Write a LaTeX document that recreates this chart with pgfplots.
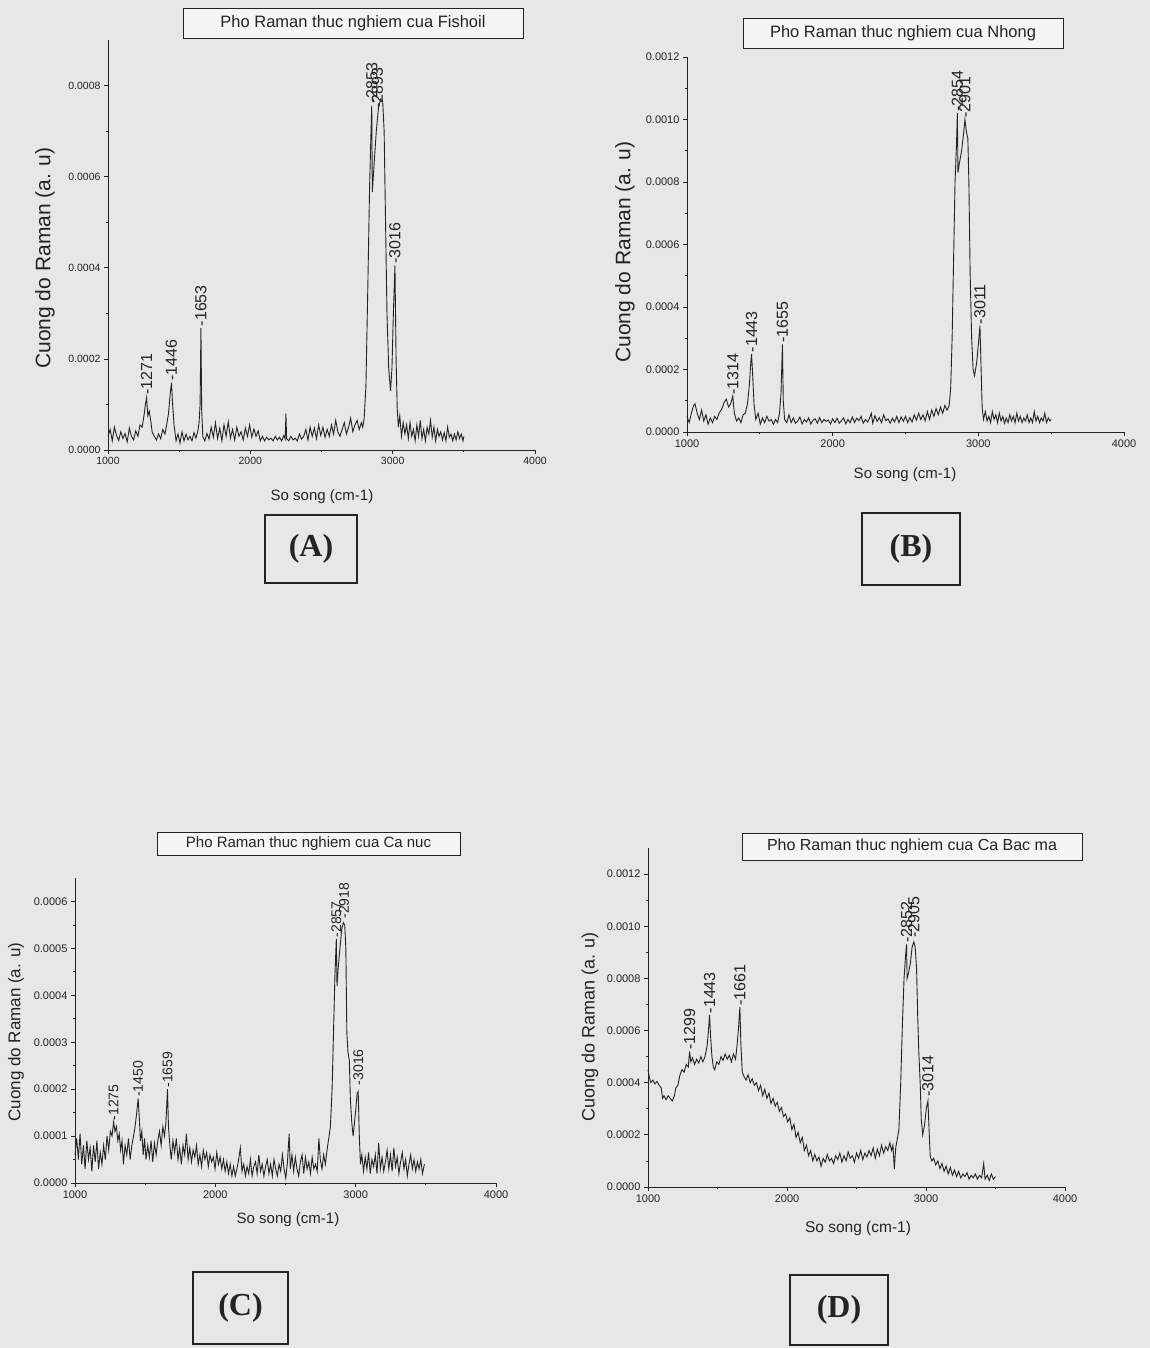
\documentclass[border=0pt]{standalone}
\usepackage{pgfplots}
\pgfplotsset{compat=1.18}
\usepackage{fontspec}
\setmainfont{Liberation Sans}
\newfontfamily\boxfont{Liberation Serif}
\definecolor{paper}{RGB}{231,231,231}
\definecolor{ink}{RGB}{35,35,35}

\pgfplotsset{
  raman/.style={
    scale only axis,
    anchor=south west,
    axis x line*=bottom,
    axis y line*=left,
    xmin=1000, xmax=4000, ymin=0,
    xtick={1000,2000,3000,4000},
    minor x tick num=1,
    minor y tick num=1,
    tick align=outside,
    major tick length=4pt,
    minor tick length=2.5pt,
    tick style={ink, line width=0.7pt},
    axis line style={ink, line width=0.9pt},
    scaled y ticks=false,
    /pgf/number format/assume math mode=true,
    xticklabel style={/pgf/number format/1000 sep={}},
    yticklabel style={/pgf/number format/.cd, fixed, fixed zerofill, precision=4},
    ticklabel style={text=ink},
    clip=false,
  },
  spec/.style={ink, line width=0.9pt, mark=none, sharp plot},
  peaks/.style={draw=none, mark=none, nodes near coords, point meta=explicit symbolic,
    nodes near coords style={rotate=90, anchor=west, inner sep=1.5pt, text=ink, font=#1}},
}

\begin{document}
\begin{tikzpicture}[x=1pt,y=1pt]
\fill[paper] (0,0) rectangle (1150,1348);

% ================= (A) Fishoil =================
\begin{axis}[raman, at={(108pt,898pt)}, width=427pt, height=410pt, ymax=0.0009,
  ytick={0,0.0002,0.0004,0.0006,0.0008},
  ticklabel style={font=\fontsize{10.5}{12}\selectfont}]
\addplot[spec] table[x=x,y=y] {
x y
1000 3.0e-5
1015 4.5e-5
1030 2.0e-5
1045 5.0e-5
1060 3.2e-5
1075 2.1e-5
1090 4.0e-5
1105 2.5e-5
1120 3.6e-5
1135 1.8e-5
1150 4.8e-5
1165 3.0e-5
1180 2.2e-5
1195 4.2e-5
1210 3.0e-5
1225 5.5e-5
1240 5.0e-5
1255 8.0e-5
1263 10.0e-5
1271 11.5e-5
1280 7.5e-5
1290 8.5e-5
1300 6.5e-5
1310 4.0e-5
1325 3.0e-5
1340 2.2e-5
1355 3.5e-5
1370 2.5e-5
1385 4.5e-5
1400 3.5e-5
1412 5.5e-5
1425 8.0e-5
1436 12.0e-5
1446 14.8e-5
1454 10.0e-5
1464 5.5e-5
1478 2.0e-5
1492 3.5e-5
1506 1.5e-5
1520 4.0e-5
1534 2.0e-5
1548 3.5e-5
1562 2.2e-5
1576 3.0e-5
1590 2.0e-5
1604 3.8e-5
1618 2.6e-5
1630 4.0e-5
1640 6.0e-5
1647 10.0e-5
1653 26.8e-5
1658 9.0e-5
1666 3.0e-5
1680 2.0e-5
1695 3.6e-5
1710 2.4e-5
1725 5.0e-5
1740 2.8e-5
1755 6.0e-5
1770 2.5e-5
1785 4.8e-5
1800 2.0e-5
1815 5.5e-5
1830 3.0e-5
1845 6.2e-5
1860 2.6e-5
1875 4.5e-5
1890 2.2e-5
1905 5.0e-5
1920 3.0e-5
1935 4.0e-5
1950 2.2e-5
1965 4.8e-5
1980 3.0e-5
1995 5.5e-5
2010 2.8e-5
2025 4.6e-5
2040 3.0e-5
2055 4.2e-5
2070 2.0e-5
2085 3.0e-5
2100 2.0e-5
2115 2.8e-5
2130 2.2e-5
2145 2.6e-5
2160 2.0e-5
2175 3.0e-5
2190 2.2e-5
2205 2.8e-5
2220 2.0e-5
2235 3.2e-5
2245 2.4e-5
2250 8.0e-5
2255 2.5e-5
2270 2.0e-5
2285 3.0e-5
2300 2.2e-5
2315 2.6e-5
2330 2.0e-5
2345 3.5e-5
2360 2.4e-5
2375 3.0e-5
2390 4.5e-5
2405 2.2e-5
2420 5.0e-5
2435 3.0e-5
2450 4.8e-5
2465 2.5e-5
2480 5.5e-5
2495 3.2e-5
2510 5.0e-5
2525 2.8e-5
2540 4.5e-5
2555 3.0e-5
2570 5.5e-5
2585 3.5e-5
2600 6.5e-5
2615 4.0e-5
2630 3.0e-5
2645 4.5e-5
2660 6.0e-5
2675 3.5e-5
2690 5.0e-5
2705 7.0e-5
2720 4.0e-5
2735 5.5e-5
2750 6.5e-5
2765 4.5e-5
2780 6.0e-5
2790 5.0e-5
2800 7.0e-5
2812 14.0e-5
2825 35.0e-5
2838 58.0e-5
2848 70.0e-5
2853 75.6e-5
2857 56.6e-5
2870 63.0e-5
2885 70.0e-5
2900 75.0e-5
2915 77.0e-5
2930 76.5e-5
2940 70.0e-5
2950 50.0e-5
2960 30.0e-5
2972 18.0e-5
2985 13.0e-5
2995 18.0e-5
3005 30.0e-5
3016 40.5e-5
3024 20.0e-5
3032 9.0e-5
3040 5.0e-5
3050 7.5e-5
3062 3.0e-5
3074 6.0e-5
3086 3.5e-5
3098 5.5e-5
3110 2.5e-5
3122 6.0e-5
3134 3.0e-5
3146 4.5e-5
3158 2.0e-5
3170 5.5e-5
3182 3.0e-5
3194 6.5e-5
3206 2.5e-5
3218 4.5e-5
3230 2.0e-5
3242 5.0e-5
3254 3.5e-5
3266 6.5e-5
3278 2.8e-5
3290 5.0e-5
3302 2.0e-5
3314 4.5e-5
3326 3.0e-5
3338 4.0e-5
3350 2.2e-5
3362 3.8e-5
3374 2.0e-5
3386 5.0e-5
3398 2.8e-5
3410 3.5e-5
3422 2.0e-5
3434 3.5e-5
3446 2.2e-5
3458 4.0e-5
3470 2.5e-5
3482 3.5e-5
3494 2.0e-5
3500 3.0e-5
};
\addplot[peaks={\fontsize{16}{16}\selectfont}] table[x=x,y=y,meta=lab] {
x y lab
1271 11.8e-5 -1271
1446 14.8e-5 -1446
1653 26.8e-5 -1653
2853 75.6e-5 -2853
2893 74.5e-5 -2893
3016 40.5e-5 -3016
};
\end{axis}

% ================= (B) Nhong =================
\begin{axis}[raman, at={(687pt,916pt)}, width=437pt, height=375pt, ymax=0.0012,
  ytick={0,0.0002,0.0004,0.0006,0.0008,0.0010,0.0012},
  ticklabel style={font=\fontsize{11}{12}\selectfont}]
\addplot[spec] table[x=x,y=y] {
x y
1000 5.0e-5
1015 3.0e-5
1030 6.0e-5
1045 8.5e-5
1055 9.0e-5
1070 6.0e-5
1085 4.0e-5
1100 7.0e-5
1115 3.5e-5
1130 5.5e-5
1145 2.5e-5
1160 4.5e-5
1175 3.0e-5
1190 5.0e-5
1205 4.0e-5
1220 6.0e-5
1240 7.5e-5
1255 9.5e-5
1270 10.5e-5
1285 8.0e-5
1300 9.0e-5
1314 11.5e-5
1325 6.0e-5
1340 3.5e-5
1355 4.5e-5
1370 3.0e-5
1385 5.5e-5
1400 6.0e-5
1415 9.0e-5
1428 15.0e-5
1436 21.0e-5
1443 25.0e-5
1450 19.0e-5
1460 9.0e-5
1472 4.0e-5
1488 6.0e-5
1503 2.5e-5
1518 4.5e-5
1533 3.0e-5
1548 5.0e-5
1563 3.5e-5
1578 4.0e-5
1593 2.5e-5
1608 4.0e-5
1622 3.0e-5
1635 6.0e-5
1645 12.0e-5
1655 28.0e-5
1661 10.0e-5
1670 4.0e-5
1685 3.0e-5
1700 5.5e-5
1715 3.0e-5
1730 4.5e-5
1745 2.8e-5
1760 3.5e-5
1775 4.8e-5
1790 2.6e-5
1805 4.0e-5
1820 3.2e-5
1835 4.5e-5
1850 2.5e-5
1865 3.8e-5
1880 4.2e-5
1895 2.8e-5
1910 4.6e-5
1925 3.0e-5
1940 4.0e-5
1955 3.4e-5
1970 3.8e-5
1985 2.6e-5
2000 4.2e-5
2015 3.0e-5
2030 4.4e-5
2045 2.8e-5
2060 3.6e-5
2075 4.5e-5
2090 2.6e-5
2105 4.0e-5
2120 3.0e-5
2135 4.8e-5
2150 3.0e-5
2165 4.4e-5
2180 3.6e-5
2195 5.0e-5
2210 2.8e-5
2225 4.0e-5
2240 3.2e-5
2255 4.6e-5
2265 6.0e-5
2275 2.8e-5
2290 5.2e-5
2305 3.4e-5
2320 4.6e-5
2335 3.0e-5
2350 5.5e-5
2365 3.6e-5
2380 4.2e-5
2395 2.8e-5
2410 4.4e-5
2425 3.2e-5
2440 5.0e-5
2455 3.0e-5
2470 4.8e-5
2485 3.4e-5
2500 5.0e-5
2515 3.0e-5
2530 4.6e-5
2545 3.2e-5
2560 5.5e-5
2575 3.8e-5
2590 6.0e-5
2605 4.0e-5
2620 5.5e-5
2635 3.6e-5
2650 6.5e-5
2665 4.0e-5
2680 7.0e-5
2695 5.0e-5
2710 7.5e-5
2725 5.5e-5
2740 8.0e-5
2755 6.0e-5
2770 8.5e-5
2785 7.0e-5
2800 8.5e-5
2810 14.0e-5
2820 30.0e-5
2830 55.0e-5
2840 80.0e-5
2850 92.0e-5
2856 102.0e-5
2860 83.0e-5
2870 86.0e-5
2885 90.0e-5
2900 96.0e-5
2908 100.0e-5
2918 96.0e-5
2928 94.0e-5
2935 80.0e-5
2944 50.0e-5
2954 30.0e-5
2964 20.0e-5
2974 18.0e-5
2988 22.0e-5
3000 28.0e-5
3011 34.0e-5
3018 22.0e-5
3026 8.0e-5
3035 4.0e-5
3048 6.5e-5
3060 3.5e-5
3072 5.0e-5
3084 3.0e-5
3096 6.5e-5
3108 4.0e-5
3120 5.5e-5
3132 3.0e-5
3144 6.0e-5
3156 3.5e-5
3168 5.0e-5
3180 2.8e-5
3192 4.5e-5
3204 3.0e-5
3216 5.5e-5
3228 3.5e-5
3240 5.0e-5
3252 3.0e-5
3264 6.0e-5
3276 3.5e-5
3288 5.0e-5
3300 3.0e-5
3312 4.5e-5
3324 3.5e-5
3336 5.5e-5
3348 3.0e-5
3360 4.5e-5
3372 3.0e-5
3384 6.5e-5
3396 3.5e-5
3408 5.0e-5
3420 3.0e-5
3432 4.5e-5
3444 3.5e-5
3456 6.0e-5
3468 3.0e-5
3480 4.5e-5
3492 3.5e-5
3500 4.0e-5
};
\addplot[peaks={\fontsize{16}{16}\selectfont}] table[x=x,y=y,meta=lab] {
x y lab
1314 11.5e-5 -1314
1443 25.0e-5 -1443
1655 28.0e-5 -1655
2856 102.0e-5 -2854
2908 100.0e-5 -2901
3011 34.0e-5 -3011
};
\end{axis}

% ================= (C) Ca nuc =================
\begin{axis}[raman, at={(75pt,165pt)}, width=421pt, height=305pt, ymax=0.00065,
  ytick={0,0.0001,0.0002,0.0003,0.0004,0.0005,0.0006},
  ticklabel style={font=\fontsize{11}{12}\selectfont}]
\addplot[spec] table[x=x,y=y] {
x y
1000 6.0e-5
1012 9.5e-5
1024 5.0e-5
1036 10.5e-5
1048 4.0e-5
1060 8.0e-5
1072 3.0e-5
1084 9.0e-5
1096 5.0e-5
1108 7.5e-5
1120 2.5e-5
1132 8.0e-5
1144 4.5e-5
1156 9.0e-5
1168 3.0e-5
1180 6.5e-5
1192 4.0e-5
1204 8.0e-5
1216 5.0e-5
1228 10.0e-5
1240 7.0e-5
1252 11.0e-5
1264 10.0e-5
1275 13.0e-5
1285 11.0e-5
1295 12.0e-5
1305 9.0e-5
1315 10.5e-5
1325 7.0e-5
1335 9.0e-5
1345 4.0e-5
1357 8.0e-5
1369 6.0e-5
1381 9.5e-5
1393 5.0e-5
1405 8.0e-5
1417 10.0e-5
1428 12.0e-5
1440 15.0e-5
1450 18.0e-5
1458 14.0e-5
1466 9.0e-5
1476 11.0e-5
1486 6.0e-5
1496 9.5e-5
1506 5.0e-5
1518 8.0e-5
1530 5.5e-5
1542 9.0e-5
1554 4.5e-5
1566 8.5e-5
1578 6.0e-5
1590 9.0e-5
1602 11.0e-5
1614 8.0e-5
1626 12.0e-5
1638 10.0e-5
1648 13.0e-5
1659 20.0e-5
1666 12.0e-5
1676 8.0e-5
1686 5.0e-5
1698 9.0e-5
1710 6.5e-5
1722 9.5e-5
1734 5.0e-5
1746 7.5e-5
1758 4.0e-5
1770 8.0e-5
1782 6.0e-5
1794 10.5e-5
1806 5.0e-5
1818 7.5e-5
1830 4.5e-5
1842 7.0e-5
1854 5.5e-5
1866 8.0e-5
1878 4.0e-5
1890 6.0e-5
1902 3.5e-5
1914 7.0e-5
1926 5.0e-5
1938 6.5e-5
1950 3.5e-5
1962 6.0e-5
1974 4.5e-5
1986 5.5e-5
1998 3.0e-5
2010 6.5e-5
2022 4.0e-5
2034 5.5e-5
2046 3.0e-5
2058 5.0e-5
2070 2.5e-5
2082 4.5e-5
2094 2.0e-5
2106 4.0e-5
2118 1.5e-5
2130 3.5e-5
2142 1.5e-5
2154 3.0e-5
2166 5.0e-5
2178 7.5e-5
2190 2.5e-5
2202 4.0e-5
2214 1.5e-5
2226 3.5e-5
2238 2.0e-5
2250 5.0e-5
2262 1.5e-5
2274 3.5e-5
2286 4.5e-5
2298 2.0e-5
2310 6.0e-5
2322 2.5e-5
2334 4.0e-5
2346 1.5e-5
2358 3.5e-5
2370 5.0e-5
2382 2.0e-5
2394 4.0e-5
2406 1.5e-5
2418 5.0e-5
2430 3.0e-5
2442 1.5e-5
2454 4.0e-5
2466 2.5e-5
2478 6.0e-5
2490 3.0e-5
2502 1.0e-5
2514 4.5e-5
2526 10.5e-5
2534 3.0e-5
2546 6.0e-5
2558 2.5e-5
2570 5.5e-5
2582 3.0e-5
2594 1.5e-5
2606 4.5e-5
2618 6.0e-5
2630 2.0e-5
2642 5.5e-5
2654 3.0e-5
2666 4.5e-5
2678 2.0e-5
2690 5.5e-5
2702 3.0e-5
2714 4.0e-5
2726 2.5e-5
2738 9.5e-5
2748 5.0e-5
2760 3.0e-5
2772 6.0e-5
2784 4.0e-5
2796 7.0e-5
2808 9.5e-5
2820 12.0e-5
2832 20.0e-5
2842 32.0e-5
2852 44.0e-5
2862 52.0e-5
2867 42.0e-5
2876 46.0e-5
2888 50.0e-5
2900 54.0e-5
2912 55.5e-5
2922 55.0e-5
2930 50.0e-5
2937 32.0e-5
2945 28.0e-5
2955 26.0e-5
2962 18.0e-5
2972 13.0e-5
2982 10.0e-5
2992 13.0e-5
3002 16.0e-5
3010 19.0e-5
3018 19.5e-5
3026 10.0e-5
3034 4.0e-5
3044 6.0e-5
3056 2.5e-5
3068 5.5e-5
3080 3.0e-5
3092 6.5e-5
3104 2.0e-5
3116 5.0e-5
3128 3.5e-5
3140 6.0e-5
3152 2.0e-5
3164 8.5e-5
3176 3.0e-5
3188 5.5e-5
3200 2.5e-5
3212 4.5e-5
3224 7.0e-5
3236 3.0e-5
3248 6.0e-5
3260 2.5e-5
3272 7.5e-5
3284 3.5e-5
3296 5.5e-5
3308 2.0e-5
3320 4.5e-5
3332 6.5e-5
3344 3.0e-5
3356 5.0e-5
3368 1.5e-5
3380 4.0e-5
3392 6.0e-5
3404 3.0e-5
3416 5.0e-5
3428 2.5e-5
3440 4.5e-5
3452 3.0e-5
3464 5.0e-5
3476 2.0e-5
3490 4.0e-5
};
\addplot[peaks={\fontsize{14}{14}\selectfont}] table[x=x,y=y,meta=lab] {
x y lab
1275 13.0e-5 -1275
1450 18.0e-5 -1450
1659 20.0e-5 -1659
2862 52.0e-5 -2857
2918 56.0e-5 -2918
3018 20.5e-5 -3016
};
\end{axis}

% ================= (D) Ca Bac ma =================
\begin{axis}[raman, at={(648pt,161pt)}, width=417pt, height=339pt, ymax=0.0013,
  ytick={0,0.0002,0.0004,0.0006,0.0008,0.0010,0.0012},
  ticklabel style={font=\fontsize{11}{12}\selectfont}]
\addplot[spec] table[x=x,y=y] {
x y
1000 45.0e-5
1010 42.0e-5
1020 40.0e-5
1035 41.0e-5
1050 39.5e-5
1065 40.5e-5
1080 39.0e-5
1095 38.0e-5
1105 34.0e-5
1115 35.0e-5
1130 33.5e-5
1145 35.0e-5
1160 34.0e-5
1175 33.0e-5
1190 35.0e-5
1200 38.0e-5
1215 39.0e-5
1230 43.0e-5
1245 45.0e-5
1260 44.0e-5
1275 47.0e-5
1290 46.0e-5
1299 52.0e-5
1308 48.0e-5
1320 49.5e-5
1335 47.0e-5
1350 49.0e-5
1365 47.5e-5
1380 50.0e-5
1395 48.0e-5
1410 50.0e-5
1425 54.0e-5
1435 60.0e-5
1443 66.0e-5
1450 58.0e-5
1460 50.0e-5
1470 46.0e-5
1480 45.0e-5
1495 48.0e-5
1510 47.0e-5
1525 50.0e-5
1540 48.5e-5
1555 51.0e-5
1570 49.0e-5
1585 50.5e-5
1600 48.0e-5
1615 51.0e-5
1630 49.0e-5
1640 54.0e-5
1650 60.0e-5
1661 69.0e-5
1668 55.0e-5
1678 44.0e-5
1690 42.5e-5
1705 41.0e-5
1720 43.0e-5
1735 40.0e-5
1750 41.5e-5
1765 39.0e-5
1780 40.0e-5
1795 37.0e-5
1810 39.0e-5
1825 35.0e-5
1840 37.5e-5
1855 34.0e-5
1870 36.0e-5
1885 32.0e-5
1900 34.0e-5
1915 31.0e-5
1930 32.5e-5
1945 29.0e-5
1960 30.5e-5
1975 27.0e-5
1990 28.0e-5
2005 25.0e-5
2020 26.5e-5
2035 22.0e-5
2050 24.0e-5
2065 19.0e-5
2080 21.0e-5
2095 17.0e-5
2110 19.0e-5
2125 14.0e-5
2140 16.0e-5
2155 12.0e-5
2170 14.0e-5
2185 10.0e-5
2200 12.5e-5
2215 10.0e-5
2230 11.5e-5
2245 8.0e-5
2260 11.0e-5
2275 9.5e-5
2290 12.5e-5
2305 10.0e-5
2320 11.0e-5
2335 9.0e-5
2350 12.0e-5
2365 10.5e-5
2380 13.0e-5
2395 9.5e-5
2410 12.0e-5
2425 10.0e-5
2440 13.5e-5
2455 11.0e-5
2470 12.0e-5
2485 9.5e-5
2500 13.0e-5
2515 11.0e-5
2530 14.0e-5
2545 10.5e-5
2560 13.0e-5
2575 11.5e-5
2590 14.0e-5
2605 12.0e-5
2620 15.0e-5
2635 11.0e-5
2650 14.5e-5
2665 12.0e-5
2680 16.0e-5
2695 13.0e-5
2710 15.5e-5
2725 14.0e-5
2740 17.0e-5
2752 14.0e-5
2762 16.0e-5
2772 7.0e-5
2782 15.0e-5
2792 18.0e-5
2805 22.0e-5
2818 40.0e-5
2830 62.0e-5
2842 80.0e-5
2852 88.0e-5
2860 93.0e-5
2864 80.0e-5
2874 82.0e-5
2888 86.0e-5
2900 92.0e-5
2912 94.0e-5
2922 92.0e-5
2932 84.0e-5
2940 66.0e-5
2948 52.0e-5
2958 40.0e-5
2966 26.0e-5
2976 20.0e-5
2990 24.0e-5
3002 30.0e-5
3014 33.0e-5
3022 22.0e-5
3030 12.0e-5
3042 10.0e-5
3055 11.0e-5
3070 8.5e-5
3085 10.0e-5
3100 7.0e-5
3115 9.0e-5
3130 6.0e-5
3145 8.0e-5
3160 5.0e-5
3175 7.5e-5
3190 4.5e-5
3205 6.5e-5
3220 4.0e-5
3235 6.0e-5
3250 3.5e-5
3265 5.0e-5
3280 4.0e-5
3295 5.5e-5
3310 3.0e-5
3325 4.5e-5
3340 3.5e-5
3355 5.0e-5
3370 3.0e-5
3385 4.5e-5
3400 3.5e-5
3415 9.0e-5
3425 3.0e-5
3440 4.5e-5
3455 2.5e-5
3470 5.0e-5
3485 3.0e-5
3500 4.0e-5
};
\addplot[peaks={\fontsize{16}{16}\selectfont}] table[x=x,y=y,meta=lab] {
x y lab
1299 52.0e-5 -1299
1443 66.0e-5 -1443
1661 69.0e-5 -1661
2860 93.0e-5 -2852
2912 95.0e-5 -2905
3014 34.0e-5 -3014
};
\end{axis}

% ---------- titles ----------
\node[draw=ink, line width=0.8pt, fill=white!60!paper, minimum width=340pt, minimum height=30pt, inner sep=0pt,
  font=\fontsize{16.5}{18}\selectfont, text=ink] at (353,1325) {Pho Raman thuc nghiem cua Fishoil};
\node[draw=ink, line width=0.8pt, fill=white!60!paper, minimum width=320pt, minimum height=30pt, inner sep=0pt,
  font=\fontsize{16.5}{18}\selectfont, text=ink] at (903,1315) {Pho Raman thuc nghiem cua Nhong};
\node[draw=ink, line width=0.8pt, fill=white!60!paper, minimum width=303pt, minimum height=23pt, inner sep=0pt,
  font=\fontsize{15}{16}\selectfont, text=ink] at (308.5,504.5) {Pho Raman thuc nghiem cua Ca nuc};
\node[draw=ink, line width=0.8pt, fill=white!60!paper, minimum width=340pt, minimum height=27pt, inner sep=0pt,
  font=\fontsize{16}{17}\selectfont, text=ink] at (912,501.5) {Pho Raman thuc nghiem cua Ca Bac ma};

% ---------- axis labels ----------
\node[rotate=90, font=\fontsize{21}{22}\selectfont, text=ink] at (45,1090) {Cuong do Raman (a. u)};
\node[font=\fontsize{15}{16}\selectfont, text=ink] at (322,851) {So song (cm-1)};
\node[rotate=90, font=\fontsize{21}{22}\selectfont, text=ink] at (625,1096) {Cuong do Raman (a. u)};
\node[font=\fontsize{15}{16}\selectfont, text=ink] at (905,873) {So song (cm-1)};
\node[rotate=90, font=\fontsize{17}{18}\selectfont, text=ink] at (16,316) {Cuong do Raman (a. u)};
\node[font=\fontsize{15}{16}\selectfont, text=ink] at (288,128) {So song (cm-1)};
\node[rotate=90, font=\fontsize{18}{19}\selectfont, text=ink] at (590,321) {Cuong do Raman (a. u)};
\node[font=\fontsize{15.5}{16}\selectfont, text=ink] at (858,120) {So song (cm-1)};

% ---------- panel letters ----------
\node[draw=ink, line width=2pt, minimum width=92pt, minimum height=68pt, inner sep=0pt,
  font=\boxfont\bfseries\fontsize{32}{34}\selectfont, text=ink] at (311,799) {(A)};
\node[draw=ink, line width=2pt, minimum width=98pt, minimum height=72pt, inner sep=0pt,
  font=\boxfont\bfseries\fontsize{32}{34}\selectfont, text=ink] at (911,799) {(B)};
\node[draw=ink, line width=2pt, minimum width=95pt, minimum height=72pt, inner sep=0pt,
  font=\boxfont\bfseries\fontsize{32}{34}\selectfont, text=ink] at (240.5,40) {(C)};
\node[draw=ink, line width=2pt, minimum width=98pt, minimum height=70pt, inner sep=0pt,
  font=\boxfont\bfseries\fontsize{32}{34}\selectfont, text=ink] at (839,38) {(D)};
\end{tikzpicture}
\end{document}
